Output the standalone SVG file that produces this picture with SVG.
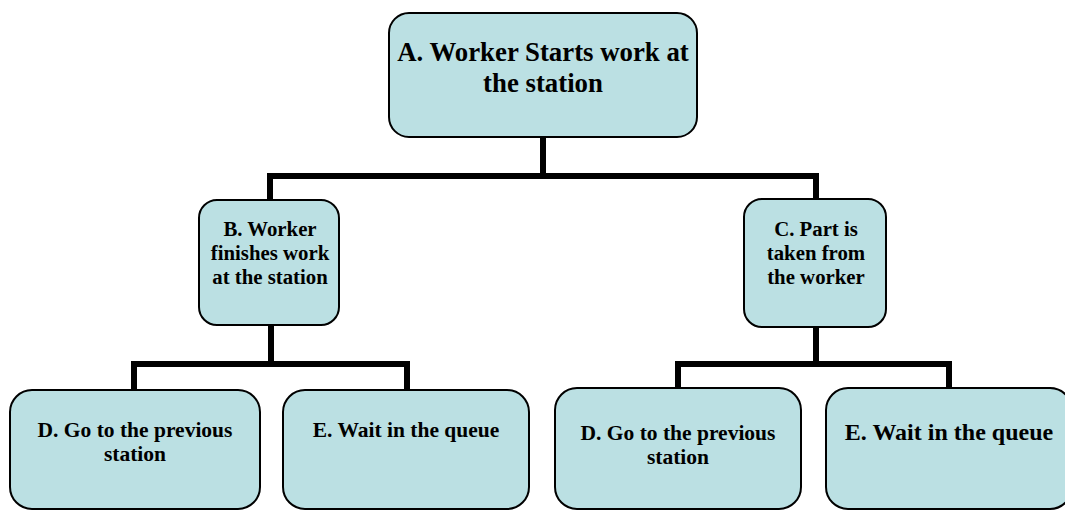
<svg xmlns="http://www.w3.org/2000/svg" width="1065" height="510" viewBox="0 0 1065 510">
  <defs>
    <style>
      .box { fill: #BBE0E3; stroke: #000; stroke-width: 2; }
      .lbl { font-family: "Liberation Serif", "Times New Roman", serif; font-weight: bold; fill: #000; text-anchor: middle; }
      .wire { fill: none; stroke: #000; stroke-width: 6; stroke-linejoin: miter; stroke-linecap: butt; }
    </style>
  </defs>
  <rect width="1065" height="510" fill="#fff"/>

  <!-- tree connectors -->
  <g id="connectors">
    <path class="wire" d="M543,137 V176"/>
    <path class="wire" d="M270,200 V176 H816 V199"/>
    <path class="wire" d="M271,325 V364"/>
    <path class="wire" d="M134,390 V364 H407 V390"/>
    <path class="wire" d="M816,327 V364"/>
    <path class="wire" d="M678,388 V364 H949 V388"/>
  </g>

  <g id="nodeA">
    <rect class="box" x="389" y="13" width="308" height="124" rx="20"/>
    <text class="lbl" font-size="26.8" x="543" y="61">A. Worker Starts work at</text>
    <text class="lbl" font-size="26.8" x="543" y="92">the station</text>
  </g>

  <g id="nodeB">
    <rect class="box" x="199" y="200" width="140" height="125" rx="18"/>
    <text class="lbl" font-size="20.8" x="270" y="236">B. Worker</text>
    <text class="lbl" font-size="20.8" x="270" y="260">finishes work</text>
    <text class="lbl" font-size="20.8" x="270" y="284">at the station</text>
  </g>

  <g id="nodeC">
    <rect class="box" x="744" y="199" width="142" height="128" rx="18"/>
    <text class="lbl" font-size="20.8" x="816" y="236">C. Part is</text>
    <text class="lbl" font-size="20.8" x="816" y="260">taken from</text>
    <text class="lbl" font-size="20.8" x="816" y="284">the worker</text>
  </g>

  <g id="nodeD1">
    <rect class="box" x="10" y="390" width="250" height="119" rx="22"/>
    <text class="lbl" font-size="21.5" x="135" y="437">D. Go to the previous</text>
    <text class="lbl" font-size="21.5" x="135" y="461">station</text>
  </g>

  <g id="nodeE1">
    <rect class="box" x="283" y="390" width="246" height="119" rx="22"/>
    <text class="lbl" font-size="21.5" x="406" y="437">E. Wait in the queue</text>
  </g>

  <g id="nodeD2">
    <rect class="box" x="555" y="388" width="246" height="121" rx="22"/>
    <text class="lbl" font-size="21.5" x="678" y="440">D. Go to the previous</text>
    <text class="lbl" font-size="21.5" x="678" y="464">station</text>
  </g>

  <g id="nodeE2">
    <rect class="box" x="826" y="388" width="246" height="121" rx="22"/>
    <text class="lbl" font-size="24" x="949" y="440">E. Wait in the queue</text>
  </g>
</svg>
